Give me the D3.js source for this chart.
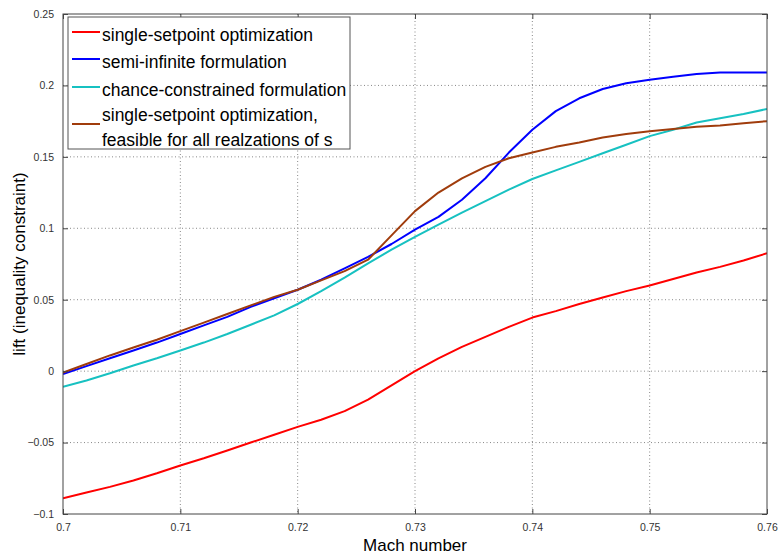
<!DOCTYPE html>
<html>
<head>
<meta charset="utf-8">
<script src="https://cdn.jsdelivr.net/npm/d3@7/dist/d3.min.js"></script>
<style>
  body { margin: 0; background: #fff; }
  text { font-family: "Liberation Sans", Arial, sans-serif; }
</style>
</head>
<body>
<div id="target"></div>
<script>
// Mach numbers sampled along the x axis
const mach = [0.700, 0.702, 0.704, 0.706, 0.708, 0.710, 0.712, 0.714, 0.716, 0.718,
              0.720, 0.722, 0.724, 0.726, 0.728, 0.730, 0.732, 0.734, 0.736, 0.738,
              0.740, 0.742, 0.744, 0.746, 0.748, 0.750, 0.752, 0.754, 0.756, 0.758, 0.760];

const singleSetpoint = [-0.089, -0.085, -0.081, -0.0765, -0.0715, -0.066, -0.061, -0.0555, -0.050, -0.0445,
                        -0.039, -0.034, -0.028, -0.020, -0.010, 0.000, 0.009, 0.017, 0.024, 0.031,
                        0.0375, 0.042, 0.047, 0.0515, 0.056, 0.060, 0.0645, 0.069, 0.073, 0.0775, 0.0825];

const semiInfinite = [-0.002, 0.0035, 0.009, 0.0145, 0.020, 0.026, 0.032, 0.038, 0.045, 0.051,
                      0.057, 0.064, 0.072, 0.080, 0.089, 0.099, 0.108, 0.120, 0.135, 0.153,
                      0.169, 0.182, 0.191, 0.1975, 0.2015, 0.204, 0.206, 0.208, 0.209, 0.209, 0.209];

const chanceConstrained = [-0.011, -0.0065, -0.0015, 0.004, 0.009, 0.0145, 0.020, 0.026, 0.0325, 0.039,
                           0.047, 0.056, 0.0655, 0.0755, 0.085, 0.094, 0.1025, 0.111, 0.119, 0.127,
                           0.1345, 0.1405, 0.1465, 0.1525, 0.1585, 0.1645, 0.169, 0.174, 0.177, 0.180, 0.1835];

const setpointFeasible = [-0.001, 0.005, 0.011, 0.0165, 0.022, 0.028, 0.034, 0.040, 0.046, 0.052,
                          0.057, 0.0635, 0.070, 0.078, 0.095, 0.112, 0.125, 0.135, 0.143, 0.149,
                          0.153, 0.157, 0.160, 0.1635, 0.166, 0.168, 0.1695, 0.171, 0.172, 0.1735, 0.175];

const xTicks = [0.7, 0.71, 0.72, 0.73, 0.74, 0.75, 0.76];
const yTicks = [-0.1, -0.05, 0, 0.05, 0.1, 0.15, 0.2, 0.25];

const seriesNames = ["single-setpoint optimization", "semi-infinite formulation",
                     "chance-constrained formulation", "single-setpoint optimization,"];
const seriesColors = ["#ff0000", "#0000ff", "#17c1c1", "#a03c0c"];
const seriesData = [singleSetpoint, semiInfinite, chanceConstrained, setpointFeasible];

const W = 779, H = 556;
const margin = {top: 14, right: 12, bottom: 42, left: 63},
  width = W - margin.left - margin.right,
  height = H - margin.top - margin.bottom;

let svg = d3.select("#target").append("svg")
  .attr("width", W)
  .attr("height", H);

let x = d3.scaleLinear().domain([0.7, 0.76]).range([0, width]);
let y = d3.scaleLinear().domain([-0.1, 0.25]).range([height, 0]);

let g = svg.append("g").attr("transform", `translate(${margin.left},${margin.top})`);

// dotted grid
g.append("g").selectAll("line").data(xTicks.slice(1, -1)).join("line")
  .attr("x1", d => x(d)).attr("x2", d => x(d))
  .attr("y1", 0).attr("y2", height)
  .attr("stroke", "#888").attr("stroke-dasharray", "1,2.5");
g.append("g").selectAll("line").data(yTicks.slice(1, -1)).join("line")
  .attr("y1", d => y(d)).attr("y2", d => y(d))
  .attr("x1", 0).attr("x2", width)
  .attr("stroke", "#888").attr("stroke-dasharray", "1,2.5");

// curves
g.append("clipPath").attr("id", "clip").append("rect")
  .attr("width", width).attr("height", height);

let valueline = d3.line()
  .x((d, i) => x(mach[i]))
  .y(d => y(d));

g.append("g").attr("clip-path", "url(#clip)")
  .selectAll("path").data(seriesData).join("path")
  .attr("d", valueline)
  .attr("fill", "none")
  .attr("stroke", (d, i) => seriesColors[i])
  .attr("stroke-width", 2)
  .attr("stroke-linejoin", "round");

// axes with inward ticks, MATLAB style
const axisColor = "#444";
function styleAxis(sel) {
  sel.select(".domain").remove();
  sel.selectAll(".tick line").attr("stroke", axisColor);
  sel.selectAll(".tick text").attr("fill", "#333").style("font-size", "10.5px")
    .style("font-family", "Liberation Sans, Arial, sans-serif");
}

g.append("g")
  .attr("transform", `translate(0,${height})`)
  .call(d3.axisBottom(x).tickValues(xTicks).tickFormat(d3.format("")).tickSizeInner(-5).tickPadding(10))
  .call(styleAxis);
g.append("g")
  .call(d3.axisTop(x).tickValues(xTicks).tickFormat("").tickSizeInner(-5))
  .call(styleAxis);
g.append("g")
  .call(d3.axisLeft(y).tickValues(yTicks).tickFormat(d3.format("")).tickSizeInner(-5).tickPadding(9))
  .call(styleAxis);
g.append("g")
  .attr("transform", `translate(${width},0)`)
  .call(d3.axisRight(y).tickValues(yTicks).tickFormat("").tickSizeInner(-5))
  .call(styleAxis);

g.append("rect")
  .attr("width", width).attr("height", height)
  .attr("fill", "none").attr("stroke", axisColor).attr("stroke-width", 1);

// axis titles
svg.append("text")
  .attr("x", margin.left + width / 2).attr("y", 551)
  .attr("text-anchor", "middle")
  .style("font-size", "17px")
  .text("Mach number");
svg.append("text")
  .attr("transform", `translate(25,${margin.top + height / 2}) rotate(-90)`)
  .attr("text-anchor", "middle")
  .style("font-size", "17px")
  .text("lift (inequality constraint)");

// legend
let legend = svg.append("g").attr("transform", "translate(68,17)");
legend.append("rect")
  .attr("width", 282).attr("height", 132)
  .attr("fill", "#fff").attr("stroke", "#555");
const rowY = [15, 42, 70, 107];
legend.selectAll("line").data(seriesColors).join("line")
  .attr("x1", 4).attr("x2", 32)
  .attr("y1", (d, i) => rowY[i]).attr("y2", (d, i) => rowY[i])
  .attr("stroke", d => d).attr("stroke-width", 2);
const textY = [24, 51, 79, 104, 129];
const legendLines = seriesNames.concat(["feasible for all realzations of s"]);
legend.selectAll("text").data(legendLines).join("text")
  .attr("x", 34).attr("y", (d, i) => textY[i])
  .style("font-size", "17.5px")
  .text(d => d);
</script>
</body>
</html>
